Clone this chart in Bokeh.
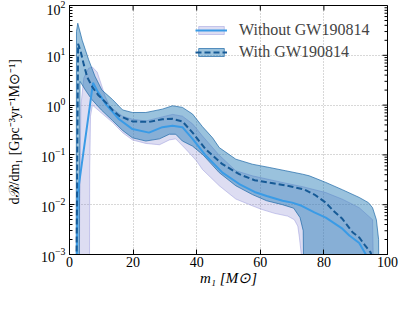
import math
from bokeh.plotting import figure
from bokeh.models import SingleIntervalTicker, Legend, LegendItem, Range1d
from bokeh.embed import file_html
from bokeh.resources import INLINE

FLOOR = 1e-6  # stands for a rate of zero on the log axis

# ---- median curves ----
m_without = [2.3, 2.6, 7.4, 9.0, 11.4, 15.6, 19.8, 25.0, 29.2, 32.4, 35.5, 38.7, 42.9, 48.1,
             53.4, 58.2, 62.0, 67.0, 70.0, 73.0, 77.0, 80.6, 85.8, 88.0, 91.1, 93.2]
r_without = [0.0008, 0.017, 2.8, 1.8, 1.05, 0.52, 0.33, 0.28, 0.36, 0.385, 0.36, 0.21, 0.096, 0.044,
             0.026, 0.018, 0.015, 0.012, 0.011, 0.0095, 0.007, 0.0055, 0.0033, 0.0024, 0.0017, 0.001]

m_with = [2.2, 2.7, 3.5, 4.5, 5.6, 7.2, 9.0, 11.4, 13.5, 15.6, 19.8, 25.0, 29.2, 32.4, 35.5, 38.7,
          42.8, 48.1, 53.4, 58.2, 64.0, 70.0, 74.0, 77.0, 80.6, 83.0, 85.8, 89.0, 91.1, 93.0, 94.7, 95.2]
r_with = [0.0005, 17.0, 12.0, 6.5, 3.6, 2.3, 1.6, 1.13, 0.8, 0.61, 0.47, 0.46, 0.52, 0.53, 0.47, 0.28,
          0.13, 0.065, 0.041, 0.031, 0.027, 0.023, 0.02, 0.016, 0.011, 0.0075, 0.0052, 0.0028, 0.0022,
          0.0015, 0.0011, 0.0008]

# ---- 90% bands ----
with_hi_m = [2.05, 2.2, 2.6, 4.0, 6.0, 8.0, 10.2, 13.5, 16.7, 19.8, 24.0, 29.2, 32.4, 35.5, 38.7,
             41.8, 45.0, 47.1, 52.3, 57.5, 62.8, 68.0, 73.3, 75.4, 80.6, 85.8, 91.1, 94.0, 95.3,
             96.5, 97.2, 97.6]
with_hi = [FLOOR, 30.0, 44.0, 20.0, 8.2, 3.8, 2.0, 1.3, 0.8, 0.71, 0.71, 0.83, 0.97, 0.9, 0.66,
           0.37, 0.22, 0.14, 0.082, 0.065, 0.056, 0.048, 0.041, 0.038, 0.028, 0.020, 0.014, 0.011,
           0.0087, 0.005, 0.002, FLOOR]
with_lo_m = [2.05, 2.9, 3.3, 5.0, 7.0, 10.0, 13.5, 16.7, 19.8, 24.0, 28.3, 31.4, 33.4, 35.5, 38.7,
             42.0, 47.1, 52.3, 57.5, 62.0, 67.0, 70.5, 72.5, 73.5, 74.1, 97.6]
with_lo = [FLOOR, FLOOR, 3.0, 2.0, 1.3, 0.8, 0.49, 0.31, 0.22, 0.19, 0.21, 0.26, 0.26, 0.19, 0.15,
           0.10, 0.044, 0.024, 0.016, 0.012, 0.010, 0.0085, 0.0055, 0.003, FLOOR, FLOOR]

without_hi_m = [2.9, 3.2, 3.6, 4.5, 6.0, 7.2, 8.7, 10.0, 11.2, 12.5, 13.5, 16.7, 19.8, 24.0, 29.2,
                32.4, 35.5, 38.7, 41.8, 47.0, 52.3, 57.5, 62.8, 68.0, 73.3, 80.6, 85.8, 91.1, 95.3, 96.3]
without_hi = [FLOOR, 0.01, 1.0, 3.5, 5.5, 5.8, 4.6, 2.6, 1.5, 1.0, 0.85, 0.6, 0.52, 0.48, 0.58,
              0.65, 0.6, 0.42, 0.24, 0.1, 0.048, 0.038, 0.032, 0.027, 0.023, 0.0175, 0.0129, 0.0087,
              0.005, FLOOR]
without_lo_m = [2.9, 6.2, 6.35, 6.6, 7.2, 10.0, 13.5, 16.7, 19.8, 24.0, 28.3, 31.4, 33.4, 36.6, 40.0,
                41.8, 47.1, 52.3, 57.5, 60.3, 64.5, 68.6, 70.7, 71.8, 72.3, 72.9, 73.0, 96.3]
without_lo = [FLOOR, FLOOR, 0.05, 0.6, 1.0, 0.7, 0.45, 0.28, 0.2, 0.17, 0.16, 0.2, 0.21, 0.13, 0.075,
              0.051, 0.024, 0.013, 0.0095, 0.0081, 0.0067, 0.0059, 0.005, 0.0037, 0.0022, 0.001, FLOOR, FLOOR]

labels = ["Without GW190814", "With GW190814"]
x_ticks = [0, 20, 40, 60, 80, 100]
y_decades = [1e-3, 1e-2, 1e-1, 1e0, 1e1, 1e2]
y_minor = [k * d for d in y_decades[:-1] for k in range(2, 10)]
y_label = "dℛ/dm₁  [Gpc⁻³yr⁻¹M⊙⁻¹]"
x_label = "m₁ [M⊙]"

SERIF = "Liberation Serif"

p = figure(frame_width=318, frame_height=249, x_range=Range1d(0, 100), y_range=Range1d(1e-3, 1e2),
           y_axis_type="log", output_backend="svg", toolbar_location=None,
           min_border_left=69, min_border_right=12, min_border_top=5, min_border_bottom=39)
p.outline_line_color = "black"
p.outline_line_width = 1

for g in (p.xgrid, p.ygrid):
    g.grid_line_color = "#b0b0b0"
    g.grid_line_dash = "1 2"
    g.grid_line_width = 1
p.xaxis.ticker = SingleIntervalTicker(interval=20, num_minor_ticks=0)
p.xgrid.ticker = p.xaxis.ticker

# bands
band_wo = p.patch(without_hi_m + without_lo_m[::-1], without_hi + without_lo[::-1],
                  fill_color="#7777cc", fill_alpha=0.25, line_color="#9999dd", line_alpha=0.5, line_width=1)
band_w = p.patch(with_hi_m + with_lo_m[::-1], with_hi + with_lo[::-1],
                 fill_color="#1f77b4", fill_alpha=0.45, line_color="#1f6aa8", line_alpha=0.7, line_width=1)
line_wo = p.line(m_without, r_without, line_color="#3a9be6", line_width=2)
line_w = p.line(m_with, r_with, line_color="#165a96", line_width=2, line_dash="6 3")

# inward ticks on the top and right frame edges
p.scatter(x_ticks, [1e2] * len(x_ticks), marker="dash", angle=math.pi / 2, size=10, line_color="black")
p.scatter([100] * len(y_decades), y_decades, marker="dash", size=10, line_color="black")
p.scatter([100] * len(y_minor), y_minor, marker="dash", size=6, line_color="black")

legend = Legend(items=[LegendItem(label=labels[0], renderers=[band_wo, line_wo]),
                       LegendItem(label=labels[1], renderers=[band_w, line_w])],
                location=(126, 193), background_fill_alpha=0, border_line_color=None,
                label_text_font=SERIF, label_text_font_size="16px", glyph_width=32, glyph_height=10,
                label_standoff=12, spacing=4, padding=0, margin=0)
p.add_layout(legend)

def style(ax):
    ax.axis_line_color = "black"
    ax.major_tick_in = 5
    ax.major_tick_out = 0
    ax.minor_tick_in = 3
    ax.minor_tick_out = 0
    ax.major_tick_line_color = "black"
    ax.minor_tick_line_color = "black"
    ax.major_label_text_font = SERIF
    ax.major_label_text_font_size = "14px"
    ax.major_label_text_color = "black"

xb = p.xaxis[0]
style(xb)
xb.major_label_standoff = 2
xb.axis_label = x_label
xb.axis_label_text_font = SERIF
xb.axis_label_text_font_size = "15px"
xb.axis_label_text_font_style = "italic"
xb.axis_label_text_color = "black"
xb.axis_label_standoff = 0

yl = p.yaxis[0]
style(yl)
yl.major_label_standoff = 4
yl.axis_label = y_label
yl.axis_label_text_font = SERIF
yl.axis_label_text_font_size = "14px"
yl.axis_label_text_font_style = "normal"
yl.axis_label_text_color = "black"
yl.axis_label_standoff = 16

open("out.html", "w").write(file_html(p, INLINE))
